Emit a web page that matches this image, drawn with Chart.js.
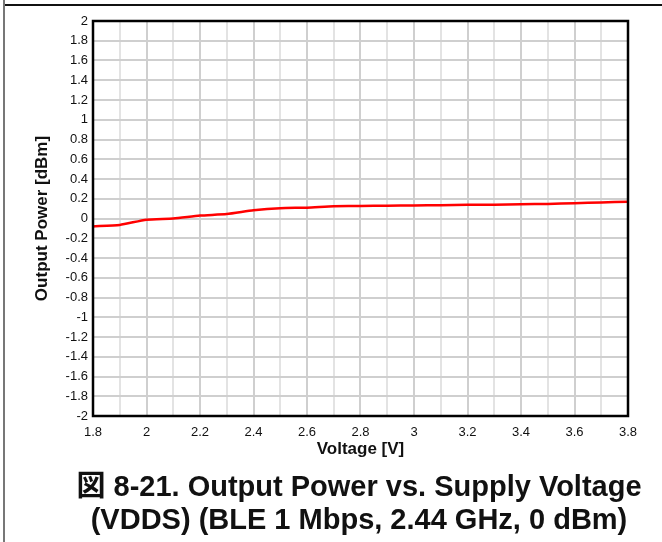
<!DOCTYPE html>
<html>
<head>
<meta charset="utf-8">
<script src="https://cdn.jsdelivr.net/npm/chart.js@4/dist/chart.umd.min.js"></script>
<style>
  body { margin: 0; background: #fff; }
  #wrap { position: relative; width: 662px; height: 542px; overflow: hidden; }
  #frameTop { position: absolute; left: 4px; top: 4px; width: 658px; height: 0; border-top: 2px solid #111; }
  #frameLeft { position: absolute; left: 3px; top: 0; width: 0; height: 542px; border-left: 2px solid #777; }
  #chart { position: absolute; left: 0; top: 0; }
  #caption {
    position: absolute; left: 0; width: 718px; top: 470px;
    text-align: center; font: bold 29px "Liberation Sans", Arial, "Noto Sans CJK JP", sans-serif;
    line-height: 33px; color: #111;
  }
</style>
</head>
<body>
<div id="wrap">
  <div id="frameTop"></div>
  <div id="frameLeft"></div>
  <canvas id="chart" width="662" height="542"></canvas>
  <div id="caption">図 8-21. Output Power vs. Supply Voltage<br>(VDDS) (BLE 1 Mbps, 2.44 GHz, 0 dBm)</div>
</div>
<script>
const voltage = [1.8, 1.9, 2.0, 2.1, 2.2, 2.3, 2.4, 2.5, 2.6, 2.7, 2.8, 2.9, 3.0, 3.1, 3.2, 3.3, 3.4, 3.5, 3.6, 3.7, 3.8]
const outputPower = [-0.08, -0.065, -0.012, 0.0, 0.03, 0.045, 0.083, 0.105, 0.11, 0.125, 0.126, 0.13, 0.132, 0.135, 0.138, 0.14, 0.145, 0.147, 0.155, 0.162, 0.17]

const fmt = v => String(parseFloat(Number(v).toFixed(1)))

const plotBorder = {
  id: 'plotBorder',
  afterDatasetsDraw(chart) {
    const { ctx, chartArea: a } = chart
    ctx.save()
    ctx.strokeStyle = '#000'
    ctx.lineWidth = 2.5
    ctx.strokeRect(a.left, a.top, a.right - a.left, a.bottom - a.top)
    ctx.restore()
  }
}

Chart.defaults.font.family = '"Liberation Sans", Arial, sans-serif'
Chart.defaults.color = '#111'

new Chart(document.getElementById('chart').getContext('2d'), {
  type: 'line',
  data: {
    datasets: [
      {
        label: 'Output Power',
        data: voltage.map((v, i) => ({ x: v, y: outputPower[i] })),
        borderColor: '#ff0000',
        borderWidth: 2.5,
        pointRadius: 0,
        tension: 0.2,
        fill: false
      }
    ]
  },
  options: {
    responsive: false,
    animation: false,
    layout: { padding: { left: 32, top: 21, right: 34, bottom: 82 } },
    plugins: {
      legend: { display: false },
      tooltip: { enabled: false }
    },
    scales: {
      x: {
        type: 'linear',
        min: 1.8,
        max: 3.8,
        afterFit: s => { s.height = 44 },
        ticks: {
          stepSize: 0.1,
          autoSkip: false,
          maxRotation: 0,
          padding: 9,
          font: { size: 13 },
          callback: (v, i) => (i % 2 === 0 ? fmt(v) : '')
        },
        grid: {
          drawTicks: false,
          lineWidth: 2,
          color: ctx => (ctx.index % 2 === 0 ? '#cfcfcf' : '#e3e3e3')
        },
        border: { display: false },
        title: {
          display: true,
          text: 'Voltage [V]',
          padding: 0,
          font: { size: 17, weight: 'bold' }
        }
      },
      y: {
        min: -2,
        max: 2,
        afterFit: s => { s.width = 61 },
        ticks: {
          stepSize: 0.2,
          padding: 5,
          font: { size: 13 },
          callback: v => fmt(v)
        },
        grid: {
          drawTicks: false,
          lineWidth: 2,
          color: '#cfcfcf'
        },
        border: { display: false },
        title: {
          display: true,
          text: 'Output Power [dBm]',
          padding: 0,
          font: { size: 17, weight: 'bold' }
        }
      }
    }
  },
  plugins: [plotBorder]
})
</script>
</body>
</html>
